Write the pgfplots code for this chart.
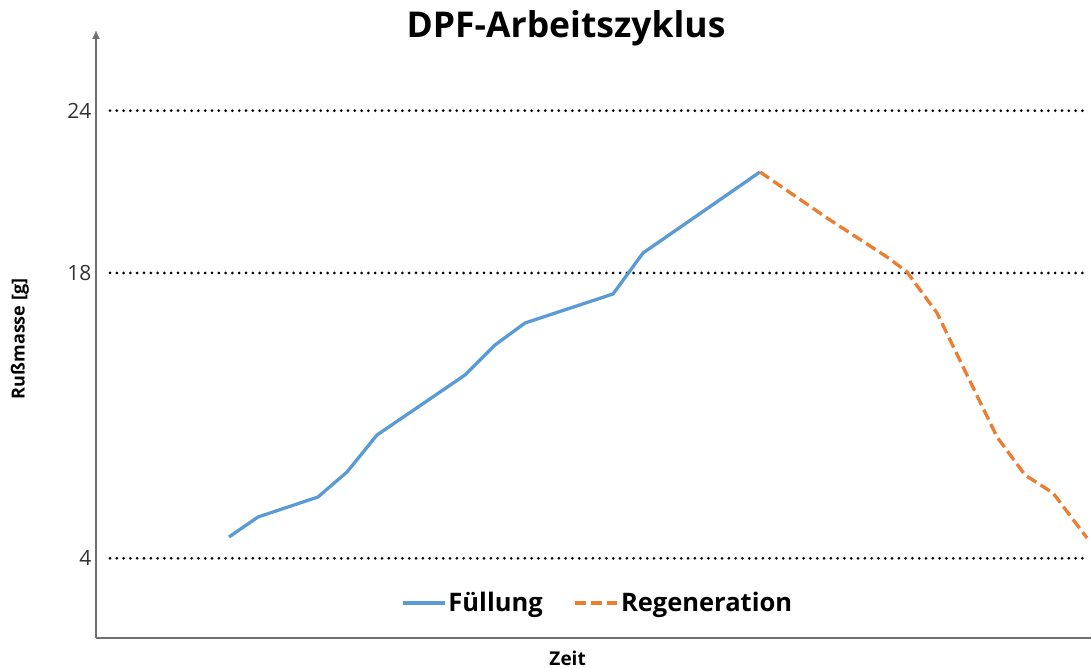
\documentclass[border=0pt]{standalone}
\usepackage{fontspec}
\setmainfont{Open Sans}
\usepackage{pgfplots}
\pgfplotsset{compat=1.18}
\usetikzlibrary{arrows.meta}
\definecolor{cblue}{HTML}{5B9BD5}
\definecolor{corange}{HTML}{ED7D31}
\definecolor{axgray}{HTML}{707070}
\definecolor{ticktext}{HTML}{333333}
\begin{document}
\begin{tikzpicture}[x=1pt,y=1pt]
\begin{axis}[
  at={(96pt,30pt)}, anchor=south west,
  scale only axis, width=995pt, height=608pt,
  xmin=96, xmax=1091, ymin=30, ymax=638,
  axis lines=left,
  x axis line style={-, draw=axgray, line width=1.6pt},
  y axis line style={-{Latex[length=9pt,width=8pt]}, draw=axgray, line width=1.6pt},
  xtick=\empty,
  ytick={109.7,395,557.3},
  yticklabels={4,18,24},
  major tick length=0pt,
  yticklabel style={font=\fontsize{21}{25}\selectfont, text=ticktext, xshift=-1pt},
  title={\textbf{DPF-Arbeitszyklus}},
  title style={font=\fontsize{35.5}{42}\selectfont, at={(axis description cs:0.4724,0.9770)}, anchor=base, yshift=0pt},
  ylabel={\textbf{Rußmasse [g]}},
  ylabel style={font=\fontsize{18}{22}\selectfont, at={(axis description cs:-0.0764,0.492)}, anchor=center},
  xlabel={\textbf{Zeit}},
  xlabel style={font=\fontsize{19}{23}\selectfont, at={(axis description cs:0.474,-0.0335)}, anchor=center},
  legend columns=2,
  legend style={at={(axis description cs:0.3065,0.0576)}, anchor=west, draw=none, fill=none,
    inner sep=0pt, font=\fontsize{25.5}{30}\selectfont\bfseries,
    /tikz/every even column/.append style={column sep=29pt}},
  legend image code/.code={\draw[#1] (0pt,0pt) -- (42pt,0pt);},
  clip=false,
]
% reference levels (dotted)
\addplot[black, line width=3pt, line cap=round, dash pattern=on 0pt off 6.8pt, forget plot] coordinates {(110,557.3) (1088,557.3)};
\addplot[black, line width=3pt, line cap=round, dash pattern=on 0pt off 6.8pt, forget plot] coordinates {(110,395) (1088,395)};
\addplot[black, line width=3pt, line cap=round, dash pattern=on 0pt off 6.8pt, forget plot] coordinates {(110,109.7) (1088,109.7)};
% Fuellung
\addplot[cblue, line width=3.3pt, line join=round] coordinates {
(229,131) (258,151) (318,171) (347,196) (377,233) (465,293) (495,323) (525,345) (613,374) (643,415) (760,496)};
\addlegendentry{Füllung}
% Regeneration
\addplot[corange, line width=3.3pt, dash pattern=on 11pt off 5pt, line join=round] coordinates {
(760,496) (827,450) (887,411) (907,396) (937,355) (997,231) (1025,193) (1053,175) (1087,130)};
\addlegendentry{Regeneration}
\end{axis}
\pgfresetboundingbox
\useasboundingbox (0,0) rectangle (1091pt,668pt);
\end{tikzpicture}
\end{document}
